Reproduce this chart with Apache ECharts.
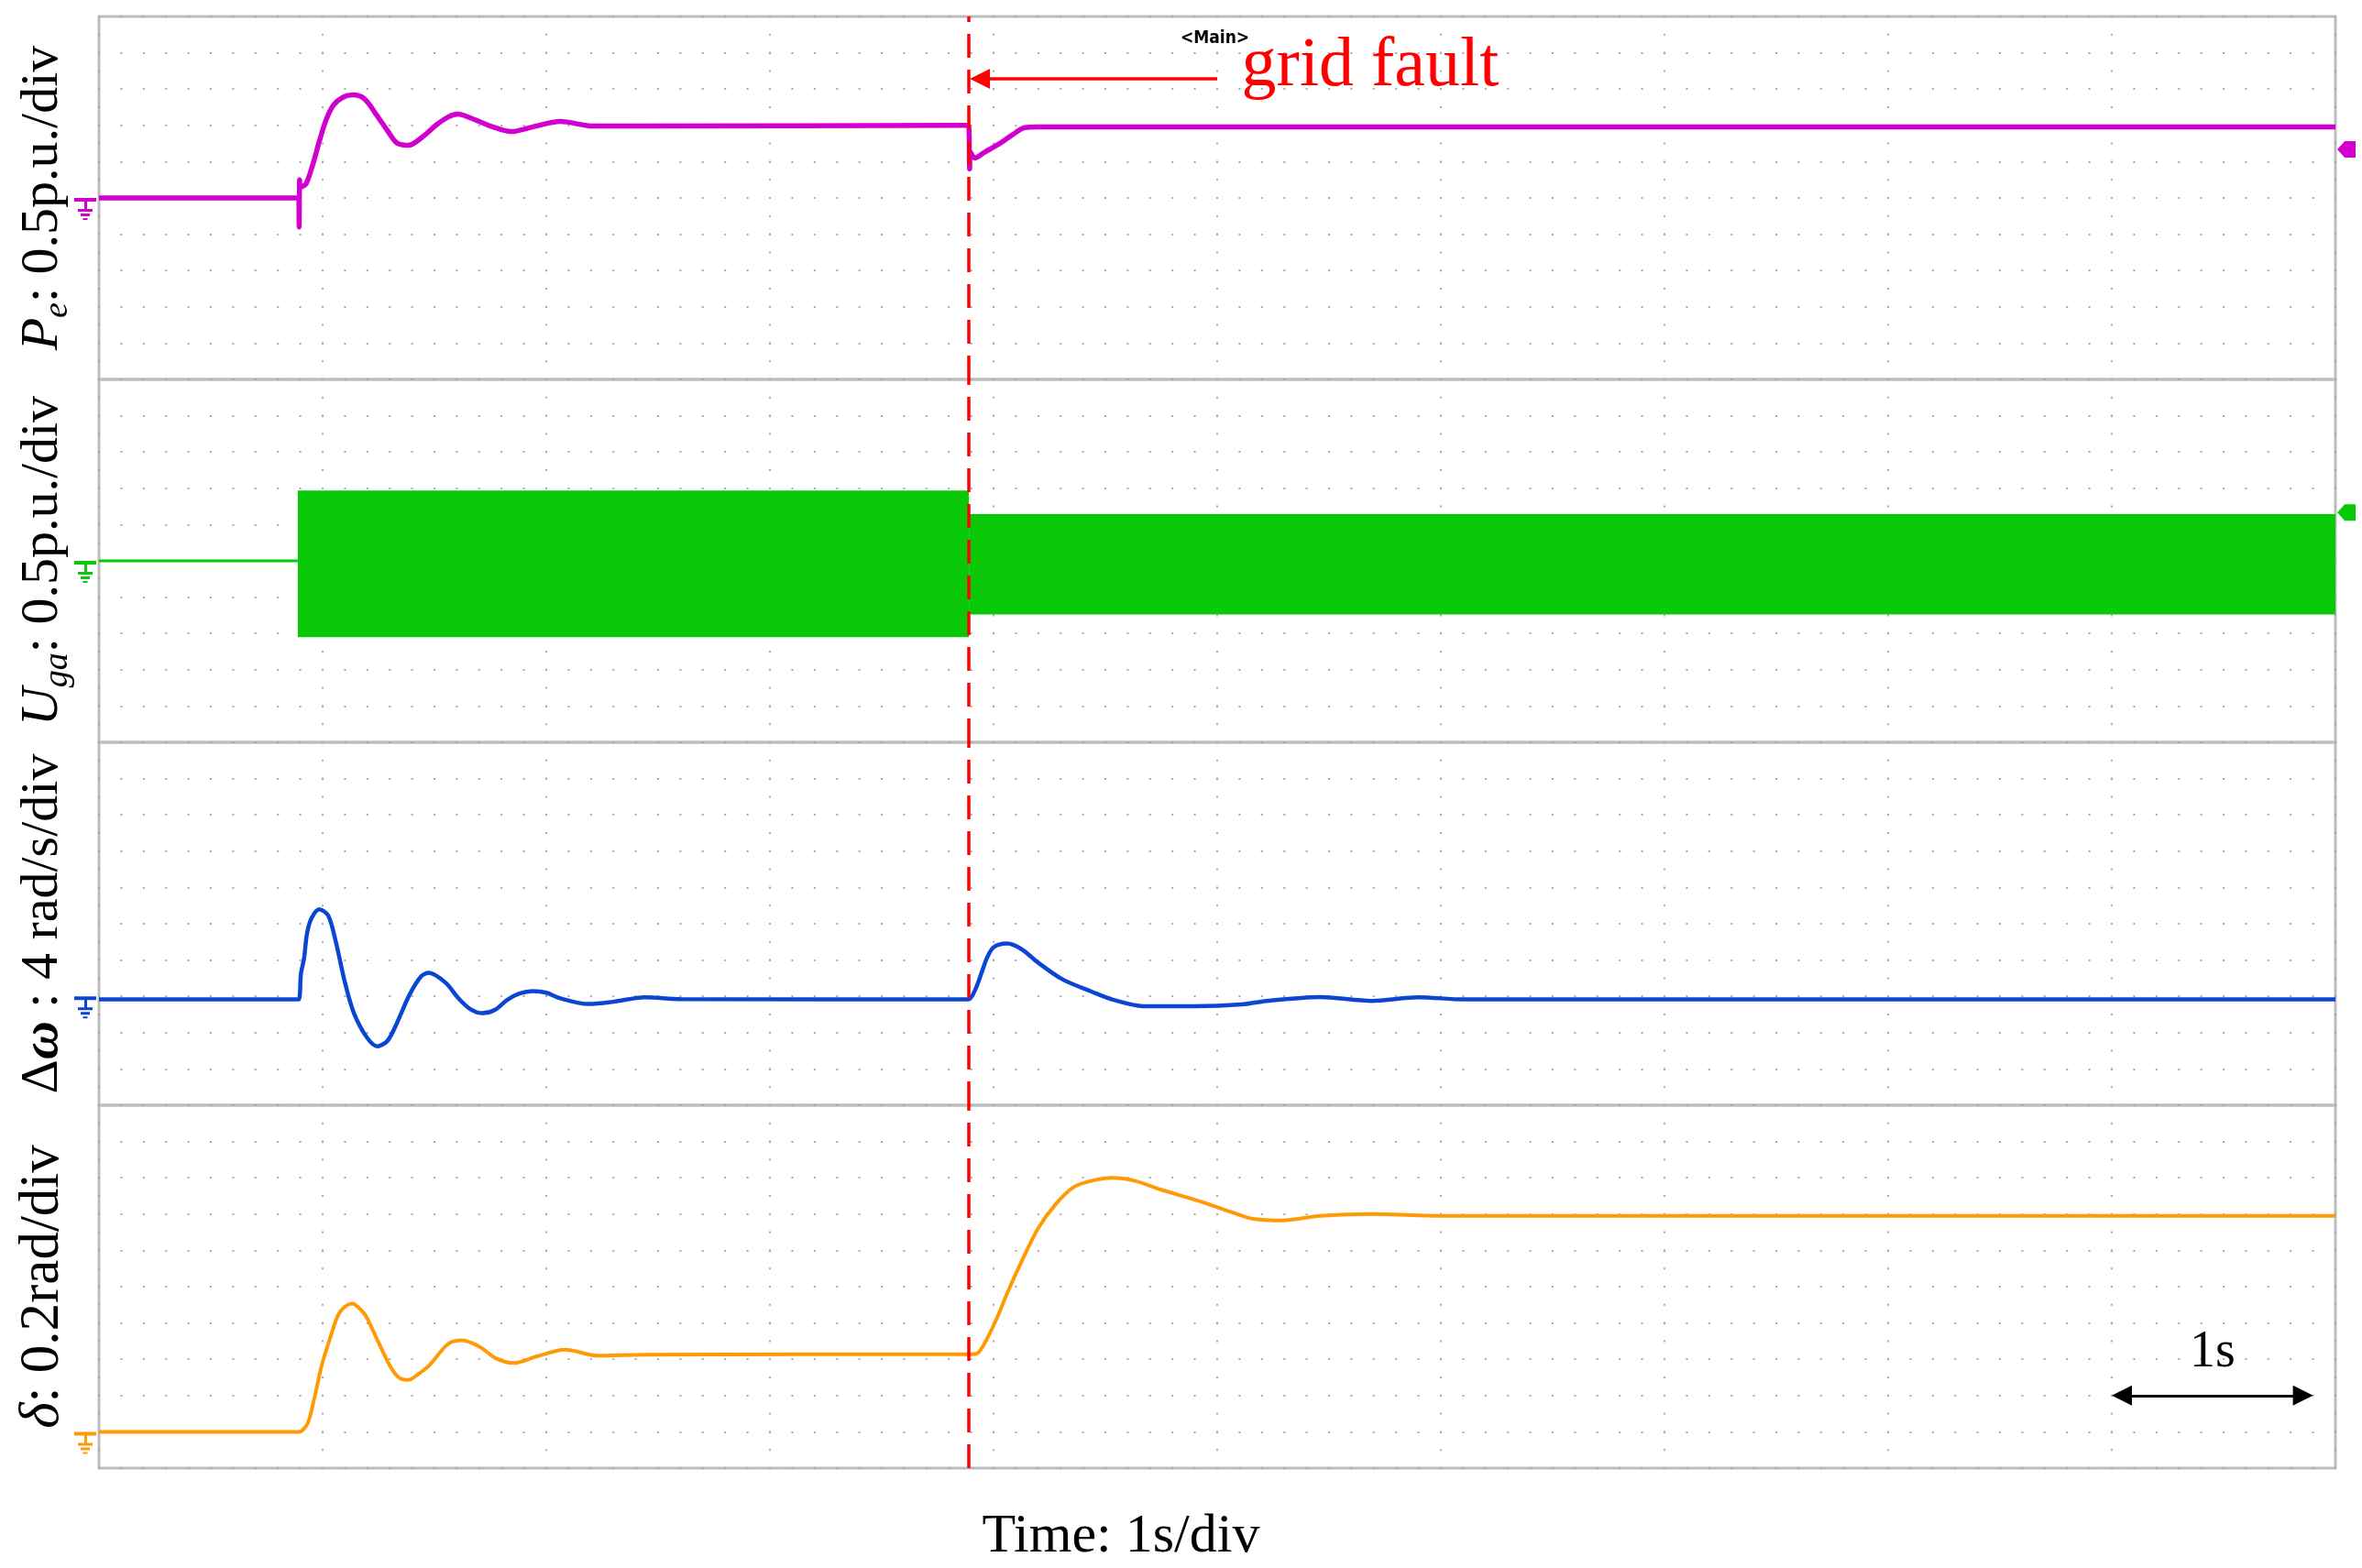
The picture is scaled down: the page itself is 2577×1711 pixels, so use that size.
<!DOCTYPE html>
<html>
<head>
<meta charset="utf-8">
<title>Grid fault response</title>
<script src="https://cdn.jsdelivr.net/npm/echarts@6.0.0/dist/echarts.min.js"></script>
<style>
  html, body { margin: 0; padding: 0; background: #fff; }
  #chart { width: 2577px; height: 1711px; }
</style>
</head>
<body>
<div id="chart"></div>
<script>
// time axis: 1 s/div, 10 div
const timeMin = 0
const timeMax = 10
const faultTime = 3.89

// Pe, p.u. [t, value]
const pePoints = [
  [0, 0], [0.87, 0], [0.893, 0], [0.895, -0.4], [0.897, 0.25], [0.9, 0.15], [0.925, 0.19],
  [0.956, 0.46], [0.987, 0.8], [1.018, 1.095], [1.05, 1.284], [1.092, 1.389],
  [1.134, 1.419], [1.186, 1.369], [1.238, 1.158], [1.29, 0.927], [1.332, 0.758],
  [1.384, 0.725], [1.447, 0.842], [1.51, 1.01], [1.562, 1.116], [1.604, 1.154],
  [1.667, 1.095], [1.75, 0.99], [1.844, 0.914], [1.938, 0.977], [2.063, 1.053],
  [2.21, 0.99], [2.377, 0.99], [3.87, 1.0], [3.888, 1.0], [3.893, 0.4], [3.897, 0.63],
  [3.916, 0.55], [3.96, 0.63], [4.022, 0.74], [4.08, 0.86], [4.139, 0.968],
  [4.2, 0.977], [10, 0.977]
]

// Uga, p.u.: flat trace before the step, then 50 Hz band [tStart, tEnd, low, high]
const ugaPoints = [[0, 0], [0.889, 0]]
const ugaBands = [
  [0.889, 3.89, -1.05, 0.97],
  [3.89, 10, -0.74, 0.645]
]

// delta omega, rad/s
const dwPoints = [
  [0, -0.34], [0.87, -0.34], [0.893, -0.34], [0.903, 2.5], [0.917, 4.2], [0.93, 6.9], [0.95, 8.6],
  [0.985, 9.6], [1.025, 8.9], [1.06, 5.9], [1.1, 1.5], [1.14, -1.86], [1.197, -4.5],
  [1.244, -5.5], [1.29, -4.9], [1.333, -2.9], [1.388, 0.16], [1.44, 2.2], [1.475, 2.6],
  [1.55, 1.5], [1.607, -0.2], [1.66, -1.4], [1.715, -1.86], [1.77, -1.5], [1.825, -0.4],
  [1.88, 0.3], [1.94, 0.57], [2.0, 0.4], [2.06, -0.2], [2.19, -0.85], [2.3, -0.6],
  [2.44, -0.1], [2.6, -0.3], [3.87, -0.34], [3.889, -0.34], [3.92, 0.84], [3.95, 2.86], [3.97, 4.2],
  [4.0, 5.4], [4.06, 5.82], [4.125, 5.2], [4.2, 3.7], [4.31, 1.85], [4.44, 0.5],
  [4.53, -0.34], [4.67, -1.08], [4.9, -1.1], [5.11, -0.9], [5.22, -0.5], [5.46, -0.07],
  [5.69, -0.5], [5.9, -0.1], [6.1, -0.34], [10, -0.34]
]

// delta, rad
const deltaPoints = [
  [0, 0], [0.875, 0], [0.895, 0], [0.933, 0.046], [0.965, 0.197], [0.996, 0.366], [1.038, 0.534],
  [1.069, 0.643], [1.1, 0.69], [1.132, 0.706], [1.165, 0.68], [1.195, 0.635],
  [1.247, 0.5], [1.3, 0.366], [1.34, 0.3], [1.383, 0.286], [1.43, 0.32], [1.477, 0.366],
  [1.56, 0.483], [1.623, 0.504], [1.705, 0.467], [1.77, 0.408], [1.853, 0.379],
  [1.958, 0.416], [2.083, 0.453], [2.23, 0.42], [2.44, 0.425], [3.87, 0.428], [3.89, 0.428],
  [3.923, 0.43], [3.965, 0.5], [4.018, 0.635], [4.06, 0.761], [4.125, 0.938],
  [4.2, 1.123], [4.28, 1.258], [4.36, 1.35], [4.44, 1.384], [4.53, 1.4], [4.63, 1.384],
  [4.75, 1.334], [4.91, 1.275], [5.07, 1.208], [5.16, 1.174], [5.29, 1.165],
  [5.46, 1.19], [5.69, 1.2], [6, 1.19], [10, 1.19]
]

// per-panel vertical range (10 div each)
const yMins = [-2.5, -2.5, -12, -0.2]
const yMaxs = [2.5, 2.5, 28, 1.8]
const yIntervals = [0.5, 0.5, 4, 0.2]
const panelNames = [
  '{i|P}{s|e}{n|: 0.5p.u./div}',
  '{i|U}{s|ga}{n|: 0.5p.u./div}',
  '{n|Δ}{w|ω}{n| : 4 rad/s/div}',
  '{I|δ}{N|: 0.2rad/div}'
]
// trigger level markers on the right edge
const peLevel = 0.67
const ugaLevel = 0.665

const colors = ['#d100cf', '#08c808', '#0a46d2', '#ff9a05']
const serif = '"Liberation Serif", "DejaVu Serif", serif'
const dotColor = '#a8a8a8'

const chart = echarts.init(document.getElementById('chart'))

const grids = [0, 1, 2, 3].map(i => ({
  left: 108, right: 29, top: 18 + i * 396, height: 396,
  show: true, borderColor: '#bdbdbd', borderWidth: 3, backgroundColor: 'transparent'
}))

const xAxes = [0, 1, 2, 3].map(i => ({
  type: 'value', gridIndex: i, min: timeMin, max: timeMax, interval: 1,
  axisLine: { show: false }, axisTick: { show: false }, axisLabel: { show: false },
  splitLine: { show: true, lineStyle: { color: dotColor, width: 2, type: [2, 17.8], dashOffset: 1 } },
  name: i === 3 ? 'Time: 1s/div' : '',
  nameLocation: 'middle', nameGap: 45,
  nameTextStyle: { fontFamily: serif, fontSize: 60, color: '#000', padding: [0, 210, 0, 0] }
}))

const nameRich = {
  n: { fontFamily: serif, fontSize: 58, lineHeight: 70, color: '#000' },
  i: { fontFamily: serif, fontSize: 58, lineHeight: 70, fontStyle: 'italic', color: '#000' },
  w: { fontFamily: serif, fontSize: 58, lineHeight: 70, fontStyle: 'italic', fontWeight: 'bold', color: '#000' },
  s: { fontFamily: serif, fontSize: 38, lineHeight: 28, fontStyle: 'italic', verticalAlign: 'bottom', color: '#000' },
  N: { fontFamily: serif, fontSize: 61, lineHeight: 70, color: '#000' },
  I: { fontFamily: serif, fontSize: 61, lineHeight: 70, fontStyle: 'italic', color: '#000' }
}

const yAxes = [0, 1, 2, 3].map(i => ({
  type: 'value', gridIndex: i, min: yMins[i], max: yMaxs[i], interval: yIntervals[i],
  axisLine: { show: false }, axisTick: { show: false }, axisLabel: { show: false },
  splitLine: { show: true, lineStyle: { color: dotColor, width: 2, type: [2, 22.4], dashOffset: 1 } },
  name: panelNames[i], nameLocation: 'middle', nameRotate: 90, nameGap: 26,
  nameTextStyle: { rich: nameRich }
}))

const faultLine = {
  xAxis: faultTime,
  lineStyle: { color: '#ff0000', type: [26, 13], width: 3.5 }
}

// oscilloscope ground symbol at the left edge of each channel
const groundPath = 'path://M0,0H24V4H14V12H20V15H4V12H11V4H0Z M7,17H17V20H7Z M9.5,22H14.5V24H9.5Z'
const flagPath = 'path://M0,8L7,0H17V16H7Z'

function groundMark(color) {
  return {
    coord: [timeMin, 0], symbol: groundPath, symbolSize: [24, 24], symbolKeepAspect: true,
    symbolOffset: [-15, 12], itemStyle: { color: color }, label: { show: false }
  }
}

function textMark(coord, text, style) {
  return {
    coord: coord, symbol: 'circle', symbolSize: 1, itemStyle: { color: 'rgba(0,0,0,0)' },
    label: Object.assign({ show: true, formatter: text }, style)
  }
}

function flagMark(level, color) {
  return {
    coord: [timeMax, level], symbol: flagPath, symbolSize: [20, 18], symbolOffset: [12, 0],
    itemStyle: { color: color }, label: { show: false }
  }
}

function lineSeries(i, data, width) {
  return {
    type: 'line', xAxisIndex: i, yAxisIndex: i, data: data, z: 3,
    showSymbol: false, symbol: 'none', smooth: 0.3,
    lineStyle: { color: colors[i], width: width }, itemStyle: { color: colors[i] },
    markLine: {
      silent: true, symbol: ['none', 'none'], label: { show: false }, animation: false,
      data: [faultLine]
    },
    markPoint: { silent: true, animation: false, data: [groundMark(colors[i])] }
  }
}

const peSeries = lineSeries(0, pePoints, 5.5)
peSeries.markLine.data.push([
  { coord: [5.0, 1.64], symbol: 'none', lineStyle: { color: '#ff0000', width: 3.5, type: 'solid' } },
  { coord: [3.939, 1.64], symbol: 'triangle', symbolSize: 22, lineStyle: { color: '#ff0000', width: 3.5, type: 'solid' } }
])
peSeries.markPoint.data.push(
  textMark([5.107, 1.8], 'grid fault', { position: 'right', distance: 0, color: '#ff0000', fontFamily: serif, fontSize: 76 }),
  textMark([4.99, 2.2], '<Main>', { position: 'inside', color: '#000', fontFamily: '"DejaVu Sans Condensed", "DejaVu Sans", sans-serif', fontWeight: 'bold', fontSize: 19 }),
  flagMark(peLevel, colors[0])
)

const ugaLine = lineSeries(1, ugaPoints, 3)
ugaLine.markPoint.data.push(flagMark(ugaLevel, colors[1]))

const ugaBand = {
  type: 'custom', xAxisIndex: 1, yAxisIndex: 1, data: ugaBands, z: 1, clip: true,
  encode: { x: [0, 1], y: [2, 3] },
  renderItem: (params, api) => {
    const p0 = api.coord([api.value(0), api.value(3)])
    const p1 = api.coord([api.value(1), api.value(2)])
    return {
      type: 'rect',
      shape: { x: p0[0], y: p0[1], width: p1[0] - p0[0], height: p1[1] - p0[1] },
      style: { fill: colors[1] }
    }
  }
}

const dwSeries = lineSeries(2, dwPoints, 4.5)

const deltaSeries = lineSeries(3, deltaPoints, 4)
deltaSeries.markLine.data.push([
  { coord: [9.045, 0.2], symbol: 'triangle', symbolSize: 22, lineStyle: { color: '#000', width: 3, type: 'solid' } },
  { coord: [9.855, 0.2], symbol: 'triangle', symbolSize: 22, lineStyle: { color: '#000', width: 3, type: 'solid' } }
])
deltaSeries.markPoint.data.push(
  textMark([9.45, 0.436], '1s', { position: 'inside', color: '#000', fontFamily: serif, fontSize: 56 })
)

const option = {
  backgroundColor: '#ffffff',
  animation: false,
  grid: grids,
  xAxis: xAxes,
  yAxis: yAxes,
  series: [peSeries, ugaBand, ugaLine, dwSeries, deltaSeries]
}

chart.setOption(option)
window.addEventListener('resize', () => chart.resize())
</script>
</body>
</html>
